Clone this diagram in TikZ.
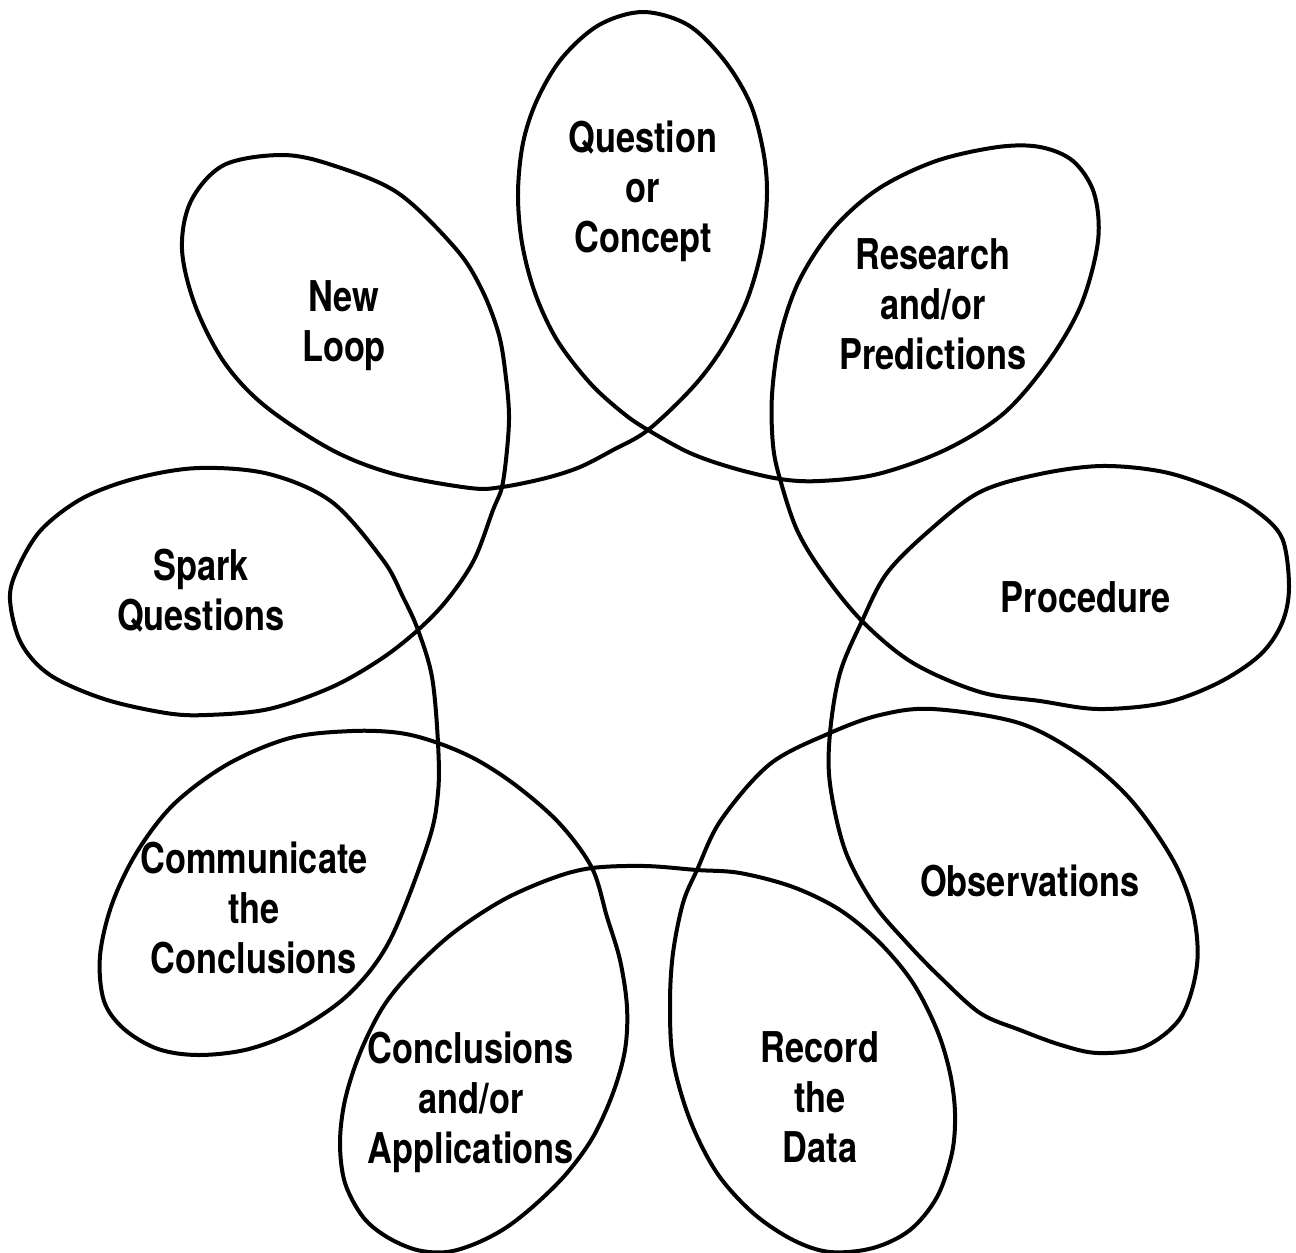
\documentclass[tikz,border=0pt]{standalone}
\usepackage{fontspec}
\newfontfamily\lab{TeX Gyre Heros}[FakeStretch=0.81]
\begin{document}
\begin{tikzpicture}[x=0.5pt,y=-0.5pt,
  loopline/.style={line width=2pt, black, line join=round},
  lbl/.style={font={\lab\bfseries\fontsize{21.2pt}{25pt}\selectfont}, align=center, inner sep=0pt, text=black}]
\useasboundingbox (0,0) rectangle (1296,1253);
\fill[white] (0,0) rectangle (1296,1253);
% one continuous looping curve with nine loops
\draw[loopline] plot[smooth cycle, tension=0.55] coordinates {
 % question loop
 (648,430) (693,387) (723,347) (747,300) (762,247) (767,193) (763,150) (750,103) (724,60) (688,25)
 (643,12) (599,25) (562,58) (537,100) (523,143) (518,193) (522,243) (535,293) (557,340) (590,383) (623,413)
 (648,430) (690,453) (733,468)
 % research loop
 (780,479) (820,481) (878,474) (945,450) (1003,414) (1048,362) (1081,305) (1098,241) (1094,193)
 (1073,161) (1040,147) (998,147) (936,161) (878,189) (833,229) (799,281) (780,337) (772,395) (773,445)
 (780,479) (797,530) (823,573)
 % procedure loop
 (862,621) (913,663) (980,692) (1040,701) (1098,709) (1164,703) (1218,683) (1260,655) (1282,623)
 (1289,587) (1282,538) (1255,510) (1218,490) (1164,472) (1102,466) (1040,474) (980,492) (930,530) (887,573)
 (862,621) (840,673)
 % observations loop
 (830,733) (830,784) (845,850) (873,903) (907,943) (940,977) (980,1013) (1020,1030) (1061,1045) (1098,1053)
 (1144,1047) (1181,1017) (1197,965) (1193,912) (1173,860) (1131,800) (1081,756) (1019,723) (933,709) (880,715)
 (830,733) (770,764) (721,820)
 % record loop
 (697,870) (683,903) (673,953) (670,1003) (673,1060) (690,1120) (717,1173) (753,1213) (793,1240)
 (830,1252) (873,1248) (910,1230) (937,1197) (952,1153) (955,1113) (950,1073) (937,1030) (913,983)
 (880,943) (840,910) (793,887) (740,873)
 (697,870) (645,866)
 % conclusions loop
 (592,868) (553,878) (503,900) (453,933) (413,970) (383,1007) (360,1053) (345,1100) (340,1143)
 (345,1183) (363,1217) (387,1237) (417,1250) (447,1252) (477,1243) (507,1227) (537,1203) (567,1173)
 (593,1137) (613,1093) (625,1050) (627,1007) (620,960) (607,917)
 (592,868) (560,824) (518,787) (477,760)
 % communicate loop
 (438,743) (400,733) (352,731) (290,738) (228,764) (174,804) (137,852) (112,904) (100,956) (104,1001)
 (124,1029) (158,1049) (199,1055) (249,1049) (299,1029) (350,993) (390,940) (428,843) (438,793)
 (438,743) (432,677)
 % spark loop
 (418,630) (403,597) (383,560) (332,502) (269,474) (199,468) (137,478) (83,498) (41,530)
 (17,570) (10,600) (21,643) (50,675) (104,699) (166,713) (207,715) (269,709) (332,687) (381,659)
 (418,630) (447,600) (474,560) (493,510)
 % new loop
 (502,487) (507,450) (509,415) (506,378) (499,335) (482,290) (456,249) (398,193) (332,165) (282,155)
 (224,165) (191,201) (182,249) (195,305) (224,362) (265,406) (332,450) (394,474) (470,488)
 (502,487) (546,478) (580,467) (613,450)
};
% labels
\node[lbl] (question) at (643,191) {Question\\or\\Concept};
\node[lbl] (research) at (933,304) {Research\\and/or\\Predictions};
\node[lbl] (procedure) at (1086,597) {Procedure};
\node[lbl] (observations) at (1030,881) {Observations};
\node[lbl] (record) at (820,1097) {Record\\the\\Data};
\node[lbl] (conclusions) at (471,1102) {Conclusions\\and/or\\Applications};
\node[lbl] (communicate) at (254,908) {Communicate\\the\\Conclusions};
\node[lbl] (spark) at (201,591) {Spark\\Questions};
\node[lbl] (newloop) at (344,326) {New\\Loop};
\end{tikzpicture}
\end{document}
